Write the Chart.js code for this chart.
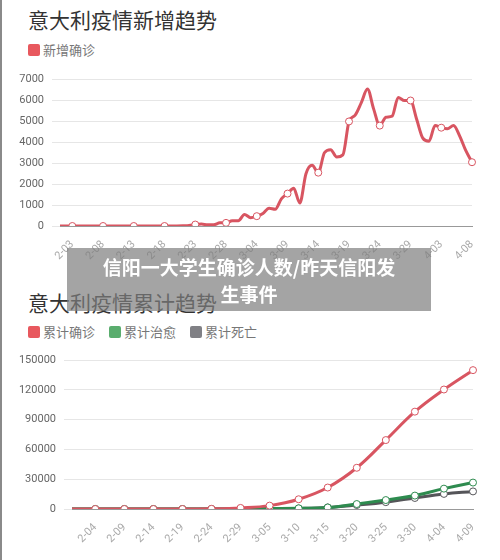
<!DOCTYPE html>
<html>
<head>
<meta charset="utf-8">
<script src="https://cdn.jsdelivr.net/npm/chart.js@4"></script>
<style>
body { margin:0; width:500px; height:560px; background:#fff; position:relative; overflow:hidden; font-family:"Noto Sans CJK SC","Noto Sans",sans-serif; }
.edge { position:absolute; left:0; top:0; width:2px; height:560px; background:#8a8a8a; }
.title { position:absolute; left:28px; font-size:21px; color:#333; }
.legend { position:absolute; left:28px; font-size:13px; color:#777; }
.legend span { margin-right:14px; }
.legend i { display:inline-block; width:12px; height:12px; border-radius:2px; vertical-align:-1px; margin-right:3px; }
.box { position:absolute; left:0; }
.overlay { position:absolute; left:67px; top:248px; width:364px; height:63px; background:rgba(125,125,125,0.7); color:#fff; font-weight:bold; font-size:19px; text-align:center; line-height:27px; padding-top:5px; box-sizing:border-box; }
</style>
</head>
<body>
<div class="edge"></div>
<div class="title" style="top:4px">意大利疫情新增趋势</div>
<div class="legend" style="top:40px"><span><i style="background:#e8585e"></i>新增确诊</span></div>
<div class="box" style="top:65px;width:490px;height:200px"><canvas id="daily"></canvas></div>

<div class="title" style="top:287px">意大利疫情累计趋势</div>
<div class="legend" style="top:322px"><span><i style="background:#e8585e"></i>累计确诊</span><span><i style="background:#5aad6e"></i>累计治愈</span><span><i style="background:#808085"></i>累计死亡</span></div>
<div class="box" style="top:345px;width:490px;height:210px"><canvas id="total"></canvas></div>

<div class="overlay">信阳一大学生确诊人数/昨天信阳发<br>生事件</div>

<script>
// daily new cases, 2-01 .. 4-08
var dailyLabels = ["2-01","2-02","2-03","2-04","2-05","2-06","2-07","2-08","2-09","2-10","2-11","2-12","2-13","2-14","2-15","2-16","2-17","2-18","2-19","2-20","2-21","2-22","2-23","2-24","2-25","2-26","2-27","2-28","2-29",
  "3-01","3-02","3-03","3-04","3-05","3-06","3-07","3-08","3-09","3-10","3-11","3-12","3-13","3-14","3-15","3-16","3-17","3-18","3-19","3-20","3-21","3-22","3-23","3-24","3-25","3-26","3-27","3-28","3-29","3-30","3-31",
  "4-01","4-02","4-03","4-04","4-05","4-06","4-07","4-08"]
var dailyNew = [0,0,0,0,0,0,0,0,0,0,0,0,0,0,0,0,0,0,0,5,15,30,70,90,60,60,150,150,250,
  250,550,400,470,600,850,800,1300,1550,1800,1100,2500,2900,2550,3500,3650,3300,3400,5000,5300,5900,6550,5600,4800,5200,5250,6150,6000,6000,5100,4200,
  4050,4800,4700,4650,4800,4300,3600,3050]

// cumulative, 1-31 .. 4-09, read every 5 days
var totalLabels = ["1-31","2-01","2-02","2-03","2-04","2-05","2-06","2-07","2-08","2-09","2-10","2-11","2-12","2-13","2-14","2-15","2-16","2-17","2-18","2-19","2-20","2-21","2-22","2-23","2-24","2-25","2-26","2-27","2-28","2-29",
  "3-01","3-02","3-03","3-04","3-05","3-06","3-07","3-08","3-09","3-10","3-11","3-12","3-13","3-14","3-15","3-16","3-17","3-18","3-19","3-20","3-21","3-22","3-23","3-24","3-25","3-26","3-27","3-28","3-29","3-30","3-31",
  "4-01","4-02","4-03","4-04","4-05","4-06","4-07","4-08","4-09"]
var sampleDays = ["1-31","2-04","2-09","2-14","2-19","2-24","2-29","3-05","3-10","3-15","3-20","3-25","3-30","4-04","4-09"]
var confirmedTotal = [0,0,0,0,0,200,1100,3400,9800,21600,41500,69400,98000,120300,139800]
var recoveredTotal = [0,0,0,0,0,0,50,400,700,1500,5000,9000,13500,20500,26600]
var deathsTotal = [0,0,0,0,0,0,30,150,600,1600,4000,6900,11100,15200,17700]

function spread(vals) {
  return totalLabels.map(function (d) {
    var k = sampleDays.indexOf(d)
    return k >= 0 ? vals[k] : null
  })
}

var tickFont = { family: "Roboto", size: 11 }
function showEvery(first) {
  return function (v, i) { return (i - first) % 5 === 0 && i >= first ? this.getLabelForValue(v) : "" }
}
function dotRadius(first) {
  return function (ctx) { var i = ctx.dataIndex; return (i >= first && (i - first) % 5 === 0) ? 3.5 : 0 }
}
function makeScales(first, max, step, yWidth, xHeight) {
  return {
    x: {
      grid: { display: false }, border: { color: "#999" },
      afterFit: function (s) { s.height = xHeight },
      ticks: { autoSkip: false, maxRotation: 45, minRotation: 45, padding: 4, color: "#aaa", font: tickFont, callback: showEvery(first) }
    },
    y: {
      min: 0, max: max, border: { display: false },
      grid: { color: "#e6e6e6" },
      afterFit: function (s) { s.width = yWidth },
      ticks: { stepSize: step, color: "#666", font: tickFont, padding: 8, callback: function (v) { return String(v) } }
    }
  }
}

new Chart(document.getElementById('daily'), {
  type: 'line',
  data: {
    labels: dailyLabels,
    datasets: [{
      data: dailyNew, borderColor: "#d85561", borderWidth: 3, tension: 0.4, cubicInterpolationMode: 'monotone',
      pointRadius: dotRadius(2), pointBackgroundColor: "#fff", pointBorderColor: "#d85561", pointBorderWidth: 1
    }]
  },
  options: {
    responsive: true, maintainAspectRatio: false, animation: false,
    layout: { padding: { top: 12, right: 18 } },
    plugins: { legend: { display: false }, tooltip: { enabled: false } },
    scales: makeScales(2, 7000, 1000, 60, 39)
  }
})

new Chart(document.getElementById('total'), {
  type: 'line',
  data: {
    labels: totalLabels,
    datasets: [
      { data: spread(confirmedTotal), borderColor: "#d85561" },
      { data: spread(recoveredTotal), borderColor: "#2e8b4f" },
      { data: spread(deathsTotal), borderColor: "#555559" }
    ].map(function (d) {
      return Object.assign(d, { borderWidth: 3, tension: 0.4, spanGaps: true, pointRadius: dotRadius(4),
        pointBackgroundColor: "#fff", pointBorderColor: d.borderColor, pointBorderWidth: 1 })
    })
  },
  options: {
    responsive: true, maintainAspectRatio: false, animation: false,
    layout: { padding: { top: 15, right: 17 } },
    plugins: { legend: { display: false }, tooltip: { enabled: false } },
    scales: makeScales(4, 150000, 30000, 72, 46)
  }
})
</script>
</body>
</html>
